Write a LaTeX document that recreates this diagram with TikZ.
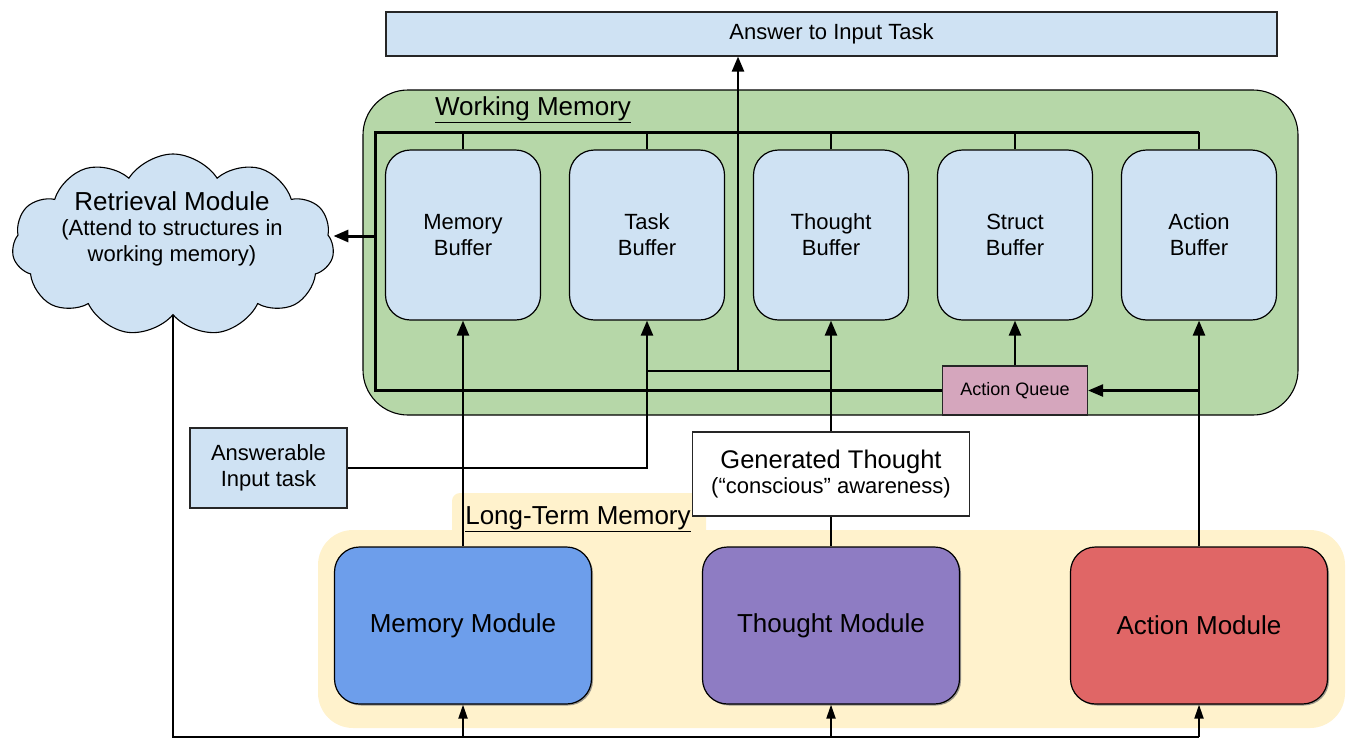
\documentclass[tikz,border=0pt]{standalone}
\usepackage{fontspec}
\setmainfont{Liberation Sans}
\usetikzlibrary{arrows.meta,shapes.symbols,shadows}
\definecolor{bufblue}{HTML}{CFE2F3}
\definecolor{wmgreen}{HTML}{B6D7A8}
\definecolor{aqpink}{HTML}{D5A6BD}
\definecolor{ltmyellow}{HTML}{FFF2CC}
\definecolor{memblue}{HTML}{6D9EEB}
\definecolor{thpurple}{HTML}{8E7CC3}
\definecolor{actred}{HTML}{E06666}
\newcommand{\fa}{\fontsize{22}{26}\selectfont}
\newcommand{\fb}{\fontsize{26}{29}\selectfont}
\tikzset{
  fa/.style={font=\fa},
  fb/.style={font=\fb},
  bufbox/.style={draw=black, line width=1.2pt, fill=bufblue, rounded corners=25pt,
    minimum width=155pt, minimum height=170pt, align=center, fa},
  modbox/.style={draw=black, line width=1.2pt, rounded corners=25pt,
    minimum width=257pt, minimum height=157pt, align=center, fb,
    drop shadow={shadow xshift=1.5pt, shadow yshift=-1.5pt, fill=black!55, opacity=0.7}},
  plainbox/.style={draw=black!85, line width=1.1pt, align=center},
  bus/.style={line width=3pt},
  drop/.style={line width=2pt},
  conn/.style={line width=2.4pt},
  tip/.style={-{Triangle[length=15pt,width=12pt]}},
  smalltip/.style={-{Triangle[length=14pt,width=9pt]}},
}
\begin{document}
\begin{tikzpicture}[x=1pt,y=-1pt]
\useasboundingbox (0,0) rectangle (1348,739);
% Long-term memory region
\fill[ltmyellow, rounded corners=8pt] (452,493) rectangle (706,545);
\fill[ltmyellow, rounded corners=35pt] (318,530) rectangle (1345,728);
\node[fb, anchor=center] (ltmlabel) at (578,519) {\underline{Long-Term Memory}};
% Working memory region
\filldraw[fill=wmgreen, draw=black, line width=1.1pt, rounded corners=45pt] (363,90) rectangle (1298,415);
\node[fb] (wmlabel) at (533,110) {\underline{Working Memory}};
% answer
\node[plainbox, fill=bufblue, minimum width=891pt, minimum height=44pt, fa] (ans) at (831.5,34) {Answer to Input Task};
% buffers
\node[bufbox] (b1) at (463,235) {Memory\\Buffer};
\node[bufbox] (b2) at (647,235) {Task\\Buffer};
\node[bufbox] (b3) at (831,235) {Thought\\Buffer};
\node[bufbox] (b4) at (1015,235) {Struct\\Buffer};
\node[bufbox] (b5) at (1199,235) {Action\\Buffer};
% action queue
\node[plainbox, fill=aqpink, minimum width=145pt, minimum height=49pt,
  font=\fontsize{18}{22}\selectfont] (aq) at (1015,390.5) {Action Queue};
% cloud
\node[cloud, cloud puffs=11, cloud puff arc=115, aspect=1.8, draw=black, line width=1.1pt,
  fill=bufblue, minimum width=322pt, minimum height=182pt, inner sep=0pt]
  (cloud) at (173,245) {};
\node[align=center, font=\fa] (rmtext) at (172,229) {\fb Retrieval Module\\[-1pt]
  \fa (Attend to structures in\\working memory)};
% answerable input
\node[plainbox, fill=bufblue, minimum width=157pt, minimum height=80pt, fa] (ait) at (268.5,468) {Answerable\\Input task};
% generated thought
\node[plainbox, fill=white, minimum width=277pt, minimum height=84pt, font=\fa] (gt) at (831,474)
  {\fontsize{25.5}{29}\selectfont Generated Thought\\[-1pt]\fa (“conscious” awareness)};
% modules
\node[modbox, fill=memblue] (mm) at (463,625.5) {Memory Module};
\node[modbox, fill=thpurple] (tm) at (831,625.5) {Thought Module};
\node[modbox, fill=actred] (am) at (1199,625.5) {Action Module};

% coordinates
\coordinate (tl) at (375,132);
\coordinate (bl) at (375,391);
\coordinate (rmid) at (375,236);
\coordinate (j1) at (647,371);
\coordinate (j2) at (831,371);
\coordinate (j3) at (738,371);
\coordinate (bot) at (175,737);

% top bus
\foreach \b in {b1,b2,b3,b4,b5} \draw[drop] (\b.north) -- (\b.north |- tl);
\draw[bus] (aq.west) -- (aq.west -| bl) -- (tl) -- (tl -| b5.north);
\draw[bus, tip] (rmid) -- (cloud.east |- rmid);
% module to buffer
\draw[conn, tip] (mm.north) -- (b1.south);
\draw[conn] (tm.north) -- (gt.south);
\draw[conn, tip] (gt.north) -- (b3.south);
\draw[conn, tip] (am.north) -- (b5.south);
\draw[conn, tip] (am.north |- aq.east) -- (aq.east);
\draw[conn, tip] (aq.north) -- (b4.south);
\draw[conn, tip] (ait.east) -| (b2.south);
\draw[conn] (j1) -- (j2);
\draw[conn, tip] (j3) -- (j3 |- ans.south);
% retrieval loop
\draw[conn] (cloud.south) -- (cloud.south |- bot) -- (bot -| am.south);
\draw[drop, smalltip] (bot -| mm.south) -- (mm.south);
\draw[drop, smalltip] (bot -| tm.south) -- (tm.south);
\draw[drop, smalltip] (bot -| am.south) -- (am.south);
\end{tikzpicture}
\end{document}
